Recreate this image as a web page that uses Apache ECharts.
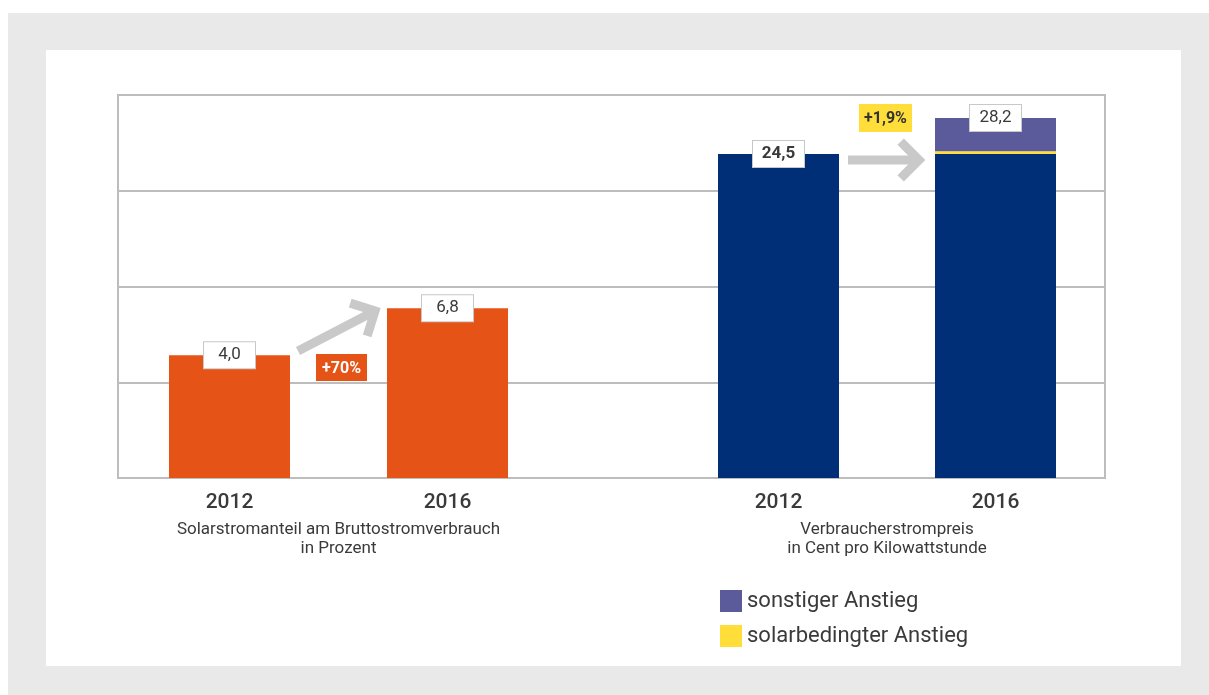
<!DOCTYPE html>
<html><head><meta charset="utf-8">
<script src="https://cdn.jsdelivr.net/npm/echarts@6/dist/echarts.min.js"></script>
<style>
html,body{margin:0;padding:0;background:#fff;}
#wrap{position:relative;width:1209px;height:695px;overflow:hidden;}
#bg{position:absolute;left:8px;top:13px;width:1201px;height:682px;background:#e8e9e8;}
#panel{position:absolute;left:46px;top:50px;width:1135px;height:616px;background:#fff;}
#chart{position:absolute;left:0;top:0;width:1209px;height:695px;}
</style></head><body>
<div id="wrap"><div id="bg"></div><div id="panel"></div><div id="chart"></div></div>
<script>
// ---- data ----
const years = ['2012', '2016'];
const solarShare = [4.0, 6.8];          // Solarstromanteil in %
const priceTotal = [24.5, 28.2];        // Verbraucherstrompreis ct/kWh
const solarRise = [null, 0.26];         // solarbedingter Anstieg (ct/kWh, estimated)
const changeLabels = ['+70%', '+1,9%'];
const groupTitles = ['Solarstromanteil am Bruttostromverbrauch\nin Prozent',
                     'Verbraucherstrompreis\nin Cent pro Kilowattstunde'];
const legendNames = ['sonstiger Anstieg', 'solarbedingter Anstieg'];

// derived
const priceBase = [priceTotal[0], priceTotal[0]];
const otherRise = [null, +(priceTotal[1] - priceTotal[0] - solarRise[1]).toFixed(2)];

const FONT = 'Roboto';
const TXT = '#3a3a3a';
const ORANGE = '#e65316', NAVY = '#002e77', PURPLE = '#5b5b9b', YELLOW = '#ffde3a';
const GRIDC = '#bdbdbd', ARROW = '#c9c9c9';

const fmt = v => v.toFixed(1).replace('.', ',');
function valueLabel(formatter, bold) {
  return {
    show: true, position: 'top', distance: -13, formatter: formatter,
    backgroundColor: '#fff', borderColor: '#c8c8c8', borderWidth: 1,
    padding: [4, 0], width: 51, align: 'center',
    fontSize: 17, lineHeight: 18, color: TXT, fontFamily: FONT,
    fontWeight: bold ? 'bold' : 'normal'
  };
}

function catAxis(gi, title) {
  return {
    type: 'category', gridIndex: gi, data: years,
    axisLine: {show: false}, axisTick: {show: false},
    axisLabel: {fontSize: 21, color: TXT, fontFamily: FONT, fontWeight: 500, margin: 14},
    name: title, nameLocation: 'middle', nameGap: 42,
    nameTextStyle: {fontSize: 17, lineHeight: 19, color: TXT, fontFamily: FONT, align: 'center', verticalAlign: 'top'}
  };
}

function arrow(x0, y0, x1, y1, arm) {
  const dx = x1 - x0, dy = y1 - y0, L = Math.hypot(dx, dy);
  const ux = dx / L, uy = dy / L, bx = -ux, by = -uy, c = Math.SQRT1_2;
  const a1 = [x1 + arm * (bx * c - by * c), y1 + arm * (bx * c + by * c)];
  const a2 = [x1 + arm * (bx * c + by * c), y1 + arm * (-bx * c + by * c)];
  const st = {stroke: ARROW, lineWidth: 9, fill: null, lineJoin: 'miter', lineCap: 'butt'};
  return [
    {type: 'polyline', shape: {points: [[x0, y0], [x1 - 5 * ux, y1 - 5 * uy]]}, style: st, z: 5},
    {type: 'polyline', shape: {points: [a1, [x1, y1], a2]}, style: st, z: 5}
  ];
}
function badge(cx, cy, w, h, text, bg, color) {
  return [
    {type: 'rect', shape: {x: cx - w / 2, y: cy - h / 2, width: w, height: h}, style: {fill: bg}, z: 6},
    {type: 'text', x: cx, y: cy + 1, style: {text: text, fill: color, font: 'bold 16px ' + FONT, align: 'center', verticalAlign: 'middle'}, z: 7}
  ];
}

const chart = echarts.init(document.getElementById('chart'), null, {renderer: 'canvas'});
chart.setOption({
  backgroundColor: 'transparent',
  animation: false,
  legend: {
    data: legendNames, orient: 'vertical', left: 720, top: 590, padding: 0,
    itemWidth: 22, itemHeight: 22, itemGap: 13, icon: 'rect', selectedMode: false,
    textStyle: {fontSize: 22, color: TXT, fontFamily: FONT}
  },
  grid: [
    {left: 118, top: 95, width: 987, height: 383, show: true, borderColor: GRIDC, borderWidth: 2, backgroundColor: 'transparent', outerBoundsMode: 'none'},
    {left: 120.5, top: 95, width: 436, height: 383, outerBoundsMode: 'none'},
    {left: 670, top: 95, width: 434, height: 383, outerBoundsMode: 'none'}
  ],
  xAxis: [
    {type: 'value', gridIndex: 0, min: 0, max: 1, show: false},
    catAxis(1, groupTitles[0]),
    catAxis(2, groupTitles[1])
  ],
  yAxis: [
    {type: 'value', gridIndex: 0, min: 0, max: 4, interval: 1,
     axisLine: {show: false}, axisTick: {show: false}, axisLabel: {show: false},
     splitLine: {show: true, lineStyle: {color: GRIDC, width: 2}}},
    {type: 'log', gridIndex: 1, logBase: 10, min: 1, max: 75.4, show: false, splitLine: {show: false}},
    {type: 'log', gridIndex: 2, logBase: 10, min: 6.91, max: 30.85, show: false, splitLine: {show: false}}
  ],
  series: [
    {name: 'Solarstromanteil', type: 'bar', xAxisIndex: 1, yAxisIndex: 1, barWidth: 121,
     itemStyle: {color: ORANGE}, data: solarShare,
     label: valueLabel(p => fmt(p.value), false), z: 3},
    {name: 'Verbraucherstrompreis', type: 'bar', xAxisIndex: 2, yAxisIndex: 2, barWidth: 121, stack: 'preis',
     itemStyle: {color: NAVY},
     data: priceBase.map((v, i) => ({value: v, label: i === 0 ? valueLabel(p => fmt(priceTotal[p.dataIndex]), true) : {show: false}})), z: 3},
    {name: legendNames[1], type: 'bar', xAxisIndex: 2, yAxisIndex: 2, barWidth: 121, stack: 'preis',
     itemStyle: {color: YELLOW}, data: solarRise.map(v => v == null ? '-' : v), z: 3},
    {name: legendNames[0], type: 'bar', xAxisIndex: 2, yAxisIndex: 2, barWidth: 121, stack: 'preis',
     itemStyle: {color: PURPLE},
     data: otherRise.map(v => v == null ? '-' : v),
     label: valueLabel(p => fmt(priceTotal[p.dataIndex]), false), z: 3}
  ],
  graphic: [].concat(
    arrow(298, 351, 375, 311, 26),
    arrow(848, 160, 919, 160, 26),
    badge(341.5, 367.5, 51, 27, changeLabels[0], ORANGE, '#ffffff'),
    badge(885.5, 118, 53, 28, changeLabels[1], YELLOW, '#333333')
  )
});
</script>
</body></html>
